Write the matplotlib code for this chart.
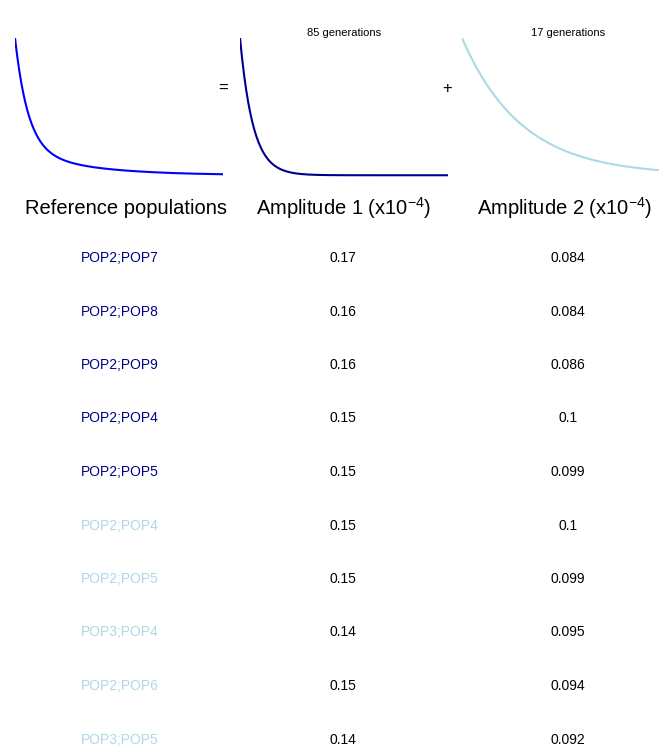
import numpy as np
import matplotlib.pyplot as plt

plt.rcParams['font.family'] = ['Liberation Sans', 'DejaVu Sans']
plt.rcParams['mathtext.fontset'] = 'custom'
plt.rcParams['mathtext.rm'] = 'Liberation Sans'
plt.rcParams['mathtext.it'] = 'Liberation Sans'

ref_pops = ["POP2;POP7", "POP2;POP8", "POP2;POP9", "POP2;POP4", "POP2;POP5",
            "POP2;POP4", "POP2;POP5", "POP3;POP4", "POP2;POP6", "POP3;POP5"]
amp1 = ["0.17", "0.16", "0.16", "0.15", "0.15", "0.15", "0.15", "0.14", "0.15", "0.14"]
amp2 = ["0.084", "0.084", "0.086", "0.1", "0.099", "0.1", "0.099", "0.095", "0.094", "0.092"]
row_colors = ["darkblue"] * 5 + ["lightblue"] * 5
generations = ["85 generations", "17 generations"]

W, H = 659, 751
fig = plt.figure(figsize=(W / 100, H / 100), dpi=100)

def ax_px(x0, y0, x1, y1):
    return fig.add_axes([x0 / W, 1 - y1 / H, (x1 - x0) / W, (y1 - y0) / H])

d = np.linspace(0, 1, 300)
c1 = np.exp(-d * 16)
c2 = np.exp(-d * 3.3)
comb = 0.17 * c1 + 0.084 * c2 * 0.5
comb = comb / comb.max()

for (x0, x1), y, col in [((15, 223), comb, "blue"), ((240, 448), c1, "darkblue"),
                         ((462, 659), c2, "lightblue")]:
    ax = ax_px(x0, 38, x1, 178)
    ax.plot(d, y, color=col, lw=1.5)
    ax.set_xlim(0, 1)
    ax.set_ylim(-0.02, 1.0)
    ax.axis("off")

fig.text(223 / W, 1 - 88 / H, "=", ha="center", va="center", fontsize=12)
fig.text(447 / W, 1 - 88 / H, "+", ha="center", va="center", fontsize=12)
fig.text(344 / W, 1 - 33 / H, generations[0], ha="center", va="center", fontsize=8)
fig.text(568 / W, 1 - 33 / H, generations[1], ha="center", va="center", fontsize=8)

hy = 1 - 208 / H
fig.text(126 / W, hy, "Reference populations", ha="center", va="center", fontsize=14.5)
fig.text(344 / W, hy, r"Amplitude 1 (x10$^{-4}$)", ha="center", va="center", fontsize=14.5)
fig.text(565 / W, hy, r"Amplitude 2 (x10$^{-4}$)", ha="center", va="center", fontsize=14.5)

for i in range(len(ref_pops)):
    y = 1 - (258 + 53.5 * i) / H
    fig.text(120 / W, y, ref_pops[i], ha="center", va="center", fontsize=10, color=row_colors[i])
    fig.text(343 / W, y, amp1[i], ha="center", va="center", fontsize=10)
    fig.text(568 / W, y, amp2[i], ha="center", va="center", fontsize=10)

fig.savefig("out.png", dpi=100)
